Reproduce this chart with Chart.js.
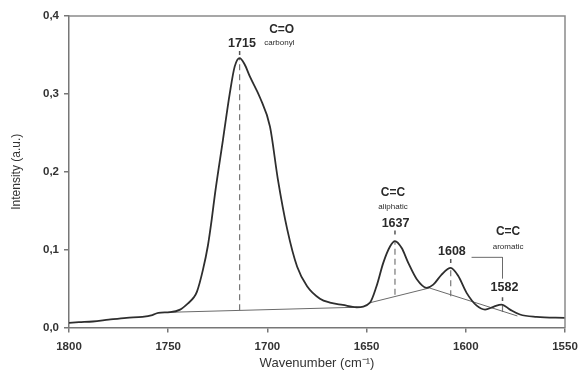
<!DOCTYPE html>
<html>
<head>
<meta charset="utf-8">
<script src="https://cdn.jsdelivr.net/npm/chart.js@4"></script>
<style>
  html, body { margin: 0; padding: 0; background: #fff; }
  #wrap { width: 581px; height: 381px; }
</style>
</head>
<body>
<div id="wrap"><canvas id="ftir"></canvas></div>
<script>
// spectrum
const wavenumbers = [1800, 1795, 1788, 1780, 1771, 1763, 1758, 1755, 1749, 1744, 1740, 1737, 1735.5,
  1732.5, 1730, 1728, 1726.4, 1722.4, 1719, 1716.5, 1714, 1711.5, 1708.8, 1703.7, 1698.7, 1694.7,
  1690, 1685, 1680, 1673.5, 1668.5, 1662, 1655, 1648.3, 1645, 1641.6, 1638.2, 1635.7, 1632.3, 1629,
  1624.7, 1619.7, 1616.4, 1612.2, 1607.6, 1603.8, 1599.6, 1594.5, 1590.3, 1586.1, 1582, 1577.7,
  1572.7, 1564.3, 1550];
const intensity = [0.006, 0.0068, 0.0077, 0.010, 0.0124, 0.0137, 0.016, 0.0188, 0.0197, 0.023, 0.031,
  0.039, 0.046, 0.074, 0.105, 0.140, 0.172, 0.241, 0.300, 0.335, 0.346, 0.338, 0.322, 0.295, 0.258,
  0.190, 0.126, 0.078, 0.053, 0.037, 0.032, 0.029, 0.026, 0.032, 0.053, 0.083, 0.104, 0.111, 0.102,
  0.083, 0.062, 0.051, 0.055, 0.068, 0.0765, 0.066, 0.0445, 0.028, 0.023, 0.0265, 0.0295, 0.023,
  0.0167, 0.0137, 0.0124];

// baselines under the peaks
const baseCarbonylX = [1750, 1655];
const baseCarbonylY = [0.0195, 0.026];
const baseLeftX = [1648, 1618];
const baseLeftY = [0.032, 0.051];
const baseRightX = [1618, 1574];
const baseRightY = [0.0505, 0.0148];

// peak markers
const peakX = [1714, 1635.7, 1607.6, 1581.5];
const peakTop = [0.346, 0.111, 0.0765, 0.0295];
const peakBase = [0.022, 0.042, 0.040, 0.020];
const markLow = [0.350, 0.1195, 0.0828, 0.034];
const markHigh = [0.355, 0.1245, 0.0879, 0.039];

// bracket joining 1608 and 1582 to the aromatic label
const bracketX = [1597.1, 1581.5, 1581.5];
const bracketY = [0.0901, 0.0901, 0.0632];

const xTicks = [1800, 1750, 1700, 1650, 1600, 1550];
const yTicks = [0, 0.1, 0.2, 0.3, 0.4];

const notes = [
  { text: "C=O", x: 1692.8, y: 0.383, font: "bold 12px 'Liberation Sans'" },
  { text: "1715", x: 1712.8, y: 0.364, font: "bold 12.5px 'Liberation Sans'" },
  { text: "carbonyl", x: 1694, y: 0.365, font: "8px 'Liberation Sans'" },
  { text: "C=C", x: 1636.7, y: 0.173, font: "bold 12px 'Liberation Sans'" },
  { text: "aliphatic", x: 1636.7, y: 0.155, font: "8px 'Liberation Sans'" },
  { text: "1637", x: 1635.4, y: 0.134, font: "bold 12.5px 'Liberation Sans'" },
  { text: "1608", x: 1607, y: 0.098, font: "bold 12.5px 'Liberation Sans'" },
  { text: "C=C", x: 1578.7, y: 0.1226, font: "bold 12px 'Liberation Sans'" },
  { text: "aromatic", x: 1578.7, y: 0.103, font: "8px 'Liberation Sans'" },
  { text: "1582", x: 1580.5, y: 0.0507, font: "bold 12.5px 'Liberation Sans'" },
];

const pts = (xs, ys) => xs.map((x, i) => ({ x, y: ys[i] }));
const thin = (xs, ys) => ({ data: pts(xs, ys), borderColor: "#6a6a6a", borderWidth: 1, pointRadius: 0 });

const datasets = [
  { data: pts(wavenumbers, intensity), borderColor: "#2e2e2e", borderWidth: 1.8, pointRadius: 0,
    cubicInterpolationMode: "monotone" },
  thin(baseCarbonylX, baseCarbonylY),
  thin(baseLeftX, baseLeftY),
  thin(baseRightX, baseRightY),
  thin(bracketX, bracketY),
];
peakX.forEach((x, i) => {
  datasets.push({ data: pts([x, x], [peakBase[i], peakTop[i]]), borderColor: "#777",
    borderWidth: 1.2, borderDash: [6, 4], pointRadius: 0 });
  datasets.push({ data: pts([x, x], [markLow[i], markHigh[i]]), borderColor: "#555",
    borderWidth: 1.5, pointRadius: 0 });
});

const frame = {
  id: "frame",
  afterDatasetsDraw(chart) {
    const { ctx, chartArea: a, scales } = chart;
    ctx.save();
    ctx.strokeStyle = "#8a8a8a";
    ctx.lineWidth = 1.5;
    ctx.beginPath();
    ctx.moveTo(a.left, a.top);
    ctx.lineTo(a.right, a.top);
    ctx.lineTo(a.right, a.bottom);
    ctx.stroke();
    ctx.fillStyle = "#2a2a2a";
    ctx.textAlign = "center";
    ctx.textBaseline = "middle";
    notes.forEach(n => {
      ctx.font = n.font;
      ctx.fillText(n.text, scales.x.getPixelForValue(n.x), scales.y.getPixelForValue(n.y));
    });
    ctx.restore();
  }
};

const tickFont = { family: "'Liberation Sans'", size: 11.5, weight: "bold" };

new Chart(document.getElementById("ftir"), {
  type: "line",
  data: { datasets },
  options: {
    responsive: true,
    maintainAspectRatio: false,
    animation: false,
    layout: { padding: { top: 16, right: 16, left: 0, bottom: 0 } },
    plugins: { legend: { display: false }, tooltip: { enabled: false } },
    scales: {
      x: {
        type: "linear",
        reverse: true,
        min: 1550,
        max: 1800,
        afterBuildTicks: s => { s.ticks = xTicks.map(v => ({ value: v })); },
        afterFit: s => { s.height = 53.5; s.paddingLeft = 0; s.paddingRight = 0; },
        grid: { drawOnChartArea: false, tickLength: 5, color: "#777", lineWidth: 1.5 },
        border: { color: "#777", width: 1.5 },
        ticks: { font: tickFont, color: "#333", padding: 7, maxRotation: 0,
          callback: v => String(v) },
        title: { display: true, text: "Wavenumber (cm⁻¹)", color: "#333",
          font: { family: "'Liberation Sans'", size: 13 }, padding: { bottom: 10 } }
      },
      y: {
        min: 0,
        max: 0.4,
        afterBuildTicks: s => { s.ticks = yTicks.map(v => ({ value: v })); },
        afterFit: s => { s.width = 69; s.paddingTop = 0; s.paddingBottom = 0; },
        grid: { drawOnChartArea: false, tickLength: 5, color: "#777", lineWidth: 1.5 },
        border: { color: "#777", width: 1.5 },
        ticks: { font: tickFont, color: "#333", padding: 5,
          callback: v => v.toFixed(1).replace(".", ",") },
        title: { display: true, text: "Intensity (a.u.)", color: "#333",
          font: { family: "'Liberation Sans'", size: 12 }, padding: { top: 9 } }
      }
    }
  },
  plugins: [frame]
});
</script>
</body>
</html>
